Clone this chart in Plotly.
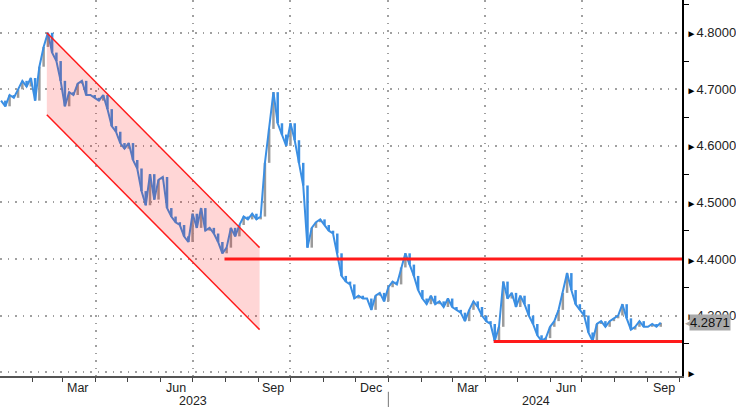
import pandas as pd
import plotly.graph_objects as go

# ---------------- data ----------------
sample_start = "2023-01-02"
sample_step = "4D"
values = [
    4.680, 4.670, 4.690, 4.685, 4.700, 4.715, 4.705, 4.720, 4.680, 4.740,
    4.775, 4.800, 4.765, 4.750, 4.715, 4.670, 4.695, 4.690, 4.710, 4.715,
    4.690, 4.690, 4.685, 4.680, 4.690, 4.665, 4.635, 4.625, 4.605, 4.595,
    4.605, 4.575, 4.560, 4.520, 4.495, 4.550, 4.505, 4.540, 4.545, 4.490,
    4.475, 4.465, 4.460, 4.440, 4.430, 4.480, 4.455, 4.490, 4.450, 4.455,
    4.445, 4.430, 4.410, 4.420, 4.455, 4.440, 4.460, 4.475, 4.470, 4.480,
    4.470, 4.475, 4.570, 4.630, 4.695, 4.640, 4.620, 4.600, 4.640, 4.610,
    4.570, 4.530, 4.420, 4.455, 4.465, 4.470, 4.460, 4.450, 4.445, 4.410,
    4.370, 4.360, 4.355, 4.330, 4.335, 4.330, 4.330, 4.310, 4.335, 4.340,
    4.325, 4.350, 4.360, 4.355, 4.385, 4.410, 4.390, 4.370, 4.345, 4.330,
    4.320, 4.335, 4.320, 4.325, 4.315, 4.330, 4.315, 4.310, 4.305, 4.290,
    4.310, 4.325, 4.315, 4.300, 4.290, 4.285, 4.255, 4.280, 4.360, 4.330,
    4.340, 4.315, 4.335, 4.320, 4.300, 4.285, 4.265, 4.255, 4.260, 4.280,
    4.290, 4.310, 4.340, 4.375, 4.345, 4.320, 4.310, 4.300, 4.270, 4.255,
    4.285, 4.290, 4.280, 4.290, 4.295, 4.300, 4.320, 4.295, 4.275, 4.280,
    4.290, 4.280, 4.280, 4.285, 4.280, 4.2871,
]
last_value = 4.2871

channel_dates = ["2023-02-14", "2023-09-02"]
channel_upper = [4.800, 4.420]
channel_lower = [4.655, 4.275]

resistance_dates = ["2023-07-31", "2024-10-03"]
resistance_level = 4.40
support_dates = ["2024-04-09", "2024-10-03"]
support_level = 4.254

x_range = ["2023-01-01", "2024-10-03"]
y_range = [4.193, 4.858]

y_tick_values = [4.2, 4.3, 4.4, 4.5, 4.6, 4.7, 4.8]
y_tick_labels = ["", "4.3000", "4.4000", "4.5000", "4.6000", "4.7000", "4.8000"]
y_minor_values = [4.25, 4.35, 4.45, 4.55, 4.65, 4.75, 4.85]

grid_dates = ["2023-04-01", "2023-07-01", "2023-10-01", "2024-01-01",
              "2024-04-01", "2024-07-01"]
month_tick_dates = [f"{y}-{m:02d}-01" for y, m in
                    [(2023, m) for m in range(2, 13)] + [(2024, m) for m in range(1, 11)]]
month_label_dates = ["2023-03-15", "2023-06-15", "2023-09-15", "2023-12-16",
                     "2024-03-16", "2024-06-16", "2024-09-16"]
month_labels = ["Mar", "Jun", "Sep", "Dec", "Mar", "Jun", "Sep"]
year_label_dates = ["2023-07-01", "2024-05-19"]
year_labels = ["2023", "2024"]
year_separator_date = "2024-01-01"

# ---------------- figure ----------------
dates = pd.date_range(sample_start, periods=len(values), freq=sample_step)
opens = [values[0]] + values[:-1]
highs = [max(o, c) for o, c in zip(opens, values)]
lows = [min(o, c) for o, c in zip(opens, values)]

FONT = "Liberation Sans, Arial, sans-serif"
BLUE = "#3b8fe3"
GRAY = "#9b9b9b"
RED = "#ff1a1a"

fig = go.Figure()

fig.add_trace(go.Scatter(
    x=dates, y=values, mode="lines",
    line=dict(color=BLUE, width=2), showlegend=False, hoverinfo="skip",
))
fig.add_trace(go.Ohlc(
    x=dates, open=opens, high=highs, low=lows, close=values,
    increasing=dict(line=dict(color=GRAY, width=2.5)),
    decreasing=dict(line=dict(color=BLUE, width=2.5)),
    tickwidth=0, showlegend=False, hoverinfo="skip",
))

# channel fill (drawn over the bars, translucent)
fig.add_trace(go.Scatter(
    x=channel_dates + channel_dates[::-1],
    y=channel_upper + channel_lower[::-1],
    fill="toself", fillcolor="rgba(255,0,0,0.16)",
    mode="lines", line=dict(width=0), showlegend=False, hoverinfo="skip",
))
for edge in (channel_upper, channel_lower):
    fig.add_trace(go.Scatter(
        x=channel_dates, y=edge, mode="lines",
        line=dict(color=RED, width=1.5), showlegend=False, hoverinfo="skip",
    ))

fig.add_trace(go.Scatter(
    x=resistance_dates, y=[resistance_level] * 2, mode="lines",
    line=dict(color=RED, width=3), showlegend=False, hoverinfo="skip",
))
fig.add_trace(go.Scatter(
    x=support_dates, y=[support_level] * 2, mode="lines",
    line=dict(color=RED, width=3), showlegend=False, hoverinfo="skip",
))

annotations = []
for d, t in zip(month_label_dates, month_labels):
    annotations.append(dict(x=d, y=0, xref="x", yref="paper", text=t,
                            showarrow=False, yanchor="middle", yshift=-12,
                            font=dict(family=FONT, size=12.5, color="#222")))
for d, t in zip(year_label_dates, year_labels):
    annotations.append(dict(x=d, y=0, xref="x", yref="paper", text=t,
                            showarrow=False, yanchor="middle", yshift=-25,
                            font=dict(family=FONT, size=12.5, color="#222")))
# last value tag
annotations.append(dict(x=1, y=last_value, xref="paper", yref="y",
                        text="◀", showarrow=False, xanchor="left", xshift=1,
                        yanchor="middle",
                        font=dict(family=FONT, size=13, color="#a8a8a8")))
annotations.append(dict(x=1, y=last_value, xref="paper", yref="y",
                        text=f"{last_value:.4f}", showarrow=False,
                        xanchor="left", xshift=7, yanchor="middle",
                        bgcolor="#a8a8a8", borderpad=0,
                        font=dict(family=FONT, size=13, color="#111")))

shapes = [dict(type="line", xref="x", yref="paper",
               x0=year_separator_date, x1=year_separator_date,
               y0=-0.042, y1=-0.085,
               line=dict(color="#777", width=1))]

fig.update_layout(
    width=736, height=407,
    margin=dict(l=0, r=52, t=0, b=31),
    paper_bgcolor="white", plot_bgcolor="white",
    annotations=annotations, shapes=shapes,
    xaxis=dict(
        type="date", range=x_range, rangeslider=dict(visible=False),
        tickmode="array", tickvals=grid_dates, ticktext=[""] * len(grid_dates),
        ticks="outside", ticklen=4, tickcolor="#444", tickwidth=1,
        showgrid=True, gridcolor="#a0a0a0", gridwidth=1.5, griddash="1.5px,6px",
        showline=True, linecolor="#555", linewidth=2,
        minor=dict(tickmode="array", tickvals=month_tick_dates, ticks="outside",
                   ticklen=4, tickcolor="#444", tickwidth=1, showgrid=False),
        zeroline=False,
    ),
    yaxis=dict(
        side="right", range=y_range,
        tickmode="array", tickvals=y_tick_values,
        ticktext=["<span style='font-size:10px;color:#000'>►</span>" + t for t in y_tick_labels],
        ticks="", showgrid=True, gridcolor="#a0a0a0", gridwidth=1.5,
        griddash="1.5px,6px",
        showline=True, linecolor="#000", linewidth=2,
        minor=dict(tickmode="array", tickvals=y_minor_values, ticks="outside",
                   ticklen=5, tickcolor="#000", tickwidth=1, showgrid=False),
        tickfont=dict(family=FONT, size=13, color="#222"),
        zeroline=False,
    ),
)

fig.write_html("out.html", config={"displayModeBar": False},
               post_script="document.body.style.margin='0';")
